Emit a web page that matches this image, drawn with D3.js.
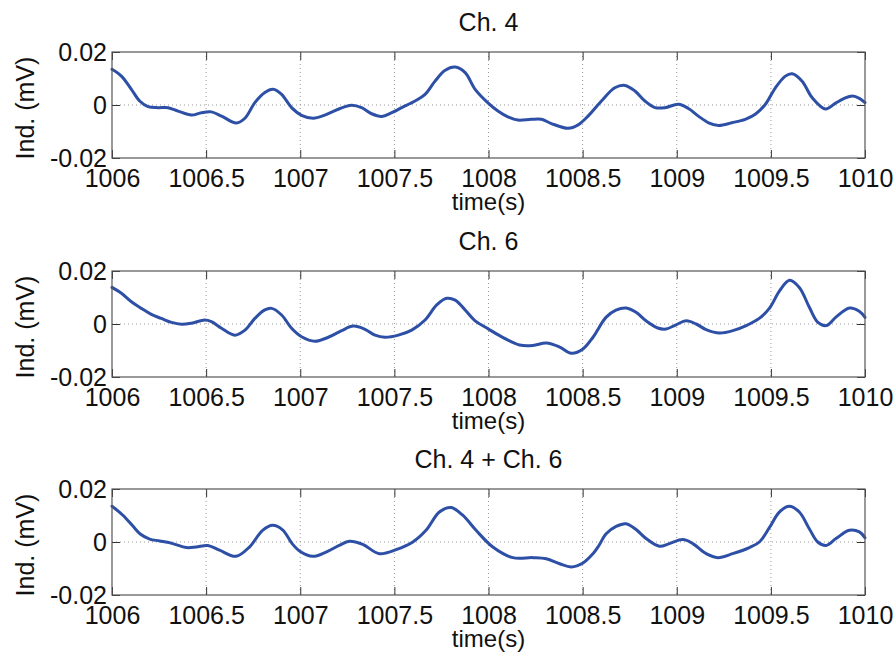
<!DOCTYPE html>
<html>
<head>
<meta charset="utf-8">
<script src="https://cdn.jsdelivr.net/npm/d3@7/dist/d3.min.js"></script>
<style>
  html, body { margin: 0; padding: 0; background: #fff; }
  svg { display: block; }
  text { font-family: "Liberation Sans", Arial, Helvetica, sans-serif; fill: #111; }
</style>
</head>
<body>
<svg id="chart" width="896" height="659"></svg>
<script>
// ---- data ----
const titles = ["Ch. 4", "Ch. 6", "Ch. 4 + Ch. 6"];
const xTicks = [1006, 1006.5, 1007, 1007.5, 1008, 1008.5, 1009, 1009.5, 1010];
const xTickLabels = ["1006", "1006.5", "1007", "1007.5", "1008", "1008.5", "1009", "1009.5", "1010"];
const yTicks = [-0.02, 0, 0.02];
const yTickLabels = ["-0.02", "0", "0.02"];
const xLabel = "time(s)";
const yLabel = "Ind. (mV)";

const ch4Time = [1006.000, 1006.050, 1006.103, 1006.147, 1006.191, 1006.245, 1006.298, 1006.351, 1006.422, 1006.475,
  1006.528, 1006.582, 1006.661, 1006.706, 1006.759, 1006.812, 1006.856, 1006.901, 1006.954, 1007.007,
  1007.069, 1007.131, 1007.202, 1007.273, 1007.326, 1007.379, 1007.433, 1007.486, 1007.539, 1007.610,
  1007.663, 1007.716, 1007.770, 1007.823, 1007.876, 1007.929, 1008.000, 1008.050, 1008.103, 1008.156,
  1008.227, 1008.281, 1008.334, 1008.423, 1008.476, 1008.529, 1008.600, 1008.671, 1008.725, 1008.778,
  1008.831, 1008.885, 1008.938, 1009.009, 1009.062, 1009.115, 1009.169, 1009.222, 1009.293, 1009.364,
  1009.417, 1009.471, 1009.524, 1009.577, 1009.613, 1009.666, 1009.719, 1009.790, 1009.840, 1009.890,
  1009.935, 1009.970, 1010.000];
const ch4Value = [0.0135, 0.0109, 0.0059, 0.0015, -0.0006, -0.0010, -0.0010, -0.0023, -0.0038, -0.0029,
  -0.0026, -0.0042, -0.0068, -0.0050, 0.0009, 0.0047, 0.0059, 0.0040, -0.0010, -0.0039,
  -0.0050, -0.0038, -0.0016, -0.0001, -0.0010, -0.0033, -0.0043, -0.0029, -0.0010, 0.0015,
  0.0040, 0.0090, 0.0131, 0.0143, 0.0122, 0.0059, 0.0006, -0.0023, -0.0045, -0.0057,
  -0.0054, -0.0054, -0.0070, -0.0088, -0.0075, -0.0042, 0.0015, 0.0065, 0.0074, 0.0053,
  0.0015, -0.0010, -0.0010, 0.0003, -0.0013, -0.0042, -0.0067, -0.0077, -0.0067, -0.0054,
  -0.0035, 0.0003, 0.0065, 0.0109, 0.0118, 0.0090, 0.0028, -0.0015, 0.0005, 0.0025,
  0.0034, 0.0025, 0.0009];

const ch6Time = [1006.000, 1006.050, 1006.103, 1006.156, 1006.209, 1006.262, 1006.316, 1006.369, 1006.422, 1006.493,
  1006.528, 1006.582, 1006.652, 1006.706, 1006.759, 1006.812, 1006.848, 1006.901, 1006.954, 1007.007,
  1007.078, 1007.149, 1007.220, 1007.282, 1007.344, 1007.397, 1007.450, 1007.521, 1007.592, 1007.663,
  1007.725, 1007.778, 1007.823, 1007.876, 1007.929, 1007.993, 1008.059, 1008.165, 1008.236, 1008.307,
  1008.378, 1008.440, 1008.502, 1008.555, 1008.624, 1008.677, 1008.731, 1008.784, 1008.837, 1008.899,
  1008.943, 1008.996, 1009.050, 1009.103, 1009.156, 1009.227, 1009.298, 1009.369, 1009.440, 1009.493,
  1009.546, 1009.599, 1009.652, 1009.705, 1009.750, 1009.794, 1009.847, 1009.918, 1009.971, 1010.000];
const ch6Value = [0.0138, 0.0116, 0.0084, 0.0059, 0.0036, 0.0021, 0.0006, -0.0001, 0.0003, 0.0015,
  0.0009, -0.0016, -0.0042, -0.0023, 0.0021, 0.0053, 0.0059, 0.0034, -0.0016, -0.0048,
  -0.0065, -0.0050, -0.0025, -0.0008, -0.0020, -0.0042, -0.0050, -0.0042, -0.0023, 0.0015,
  0.0072, 0.0097, 0.0090, 0.0053, 0.0012, -0.0016, -0.0044, -0.0079, -0.0081, -0.0072,
  -0.0087, -0.0110, -0.0094, -0.0050, 0.0025, 0.0052, 0.0060, 0.0044, 0.0012, -0.0015,
  -0.0019, -0.0003, 0.0012, 0.0000, -0.0021, -0.0034, -0.0025, -0.0006, 0.0022, 0.0060,
  0.0125, 0.0165, 0.0137, 0.0062, 0.0006, -0.0006, 0.0027, 0.0060, 0.0047, 0.0025];

const sumTime = [1006.000, 1006.058, 1006.111, 1006.150, 1006.200, 1006.253, 1006.323, 1006.394, 1006.447, 1006.509,
  1006.571, 1006.659, 1006.730, 1006.800, 1006.853, 1006.906, 1006.959, 1007.000, 1007.066, 1007.137,
  1007.207, 1007.261, 1007.332, 1007.420, 1007.509, 1007.598, 1007.668, 1007.739, 1007.801, 1007.863,
  1007.934, 1008.023, 1008.129, 1008.236, 1008.307, 1008.378, 1008.440, 1008.502, 1008.555, 1008.585,
  1008.625, 1008.678, 1008.731, 1008.784, 1008.837, 1008.908, 1008.961, 1009.032, 1009.085, 1009.156,
  1009.218, 1009.297, 1009.386, 1009.439, 1009.492, 1009.545, 1009.598, 1009.651, 1009.704, 1009.749,
  1009.793, 1009.846, 1009.917, 1009.970, 1010.000];
const sumValue = [0.0135, 0.0101, 0.0060, 0.0030, 0.0011, 0.0004, -0.0006, -0.0021, -0.0019, -0.0013,
  -0.0031, -0.0054, -0.0019, 0.0044, 0.0063, 0.0046, -0.0008, -0.0036, -0.0054, -0.0038,
  -0.0013, 0.0003, -0.0009, -0.0044, -0.0029, 0.0000, 0.0044, 0.0113, 0.0130, 0.0101,
  0.0044, -0.0019, -0.0059, -0.0059, -0.0063, -0.0082, -0.0094, -0.0079, -0.0044, -0.0015,
  0.0031, 0.0059, 0.0069, 0.0047, 0.0013, -0.0016, -0.0006, 0.0009, -0.0006, -0.0044,
  -0.0059, -0.0044, -0.0021, 0.0000, 0.0054, 0.0113, 0.0135, 0.0113, 0.0050, 0.0000,
  -0.0013, 0.0013, 0.0044, 0.0038, 0.0016];

const seriesTimes = [ch4Time, ch6Time, sumTime];
const seriesValues = [ch4Value, ch6Value, sumValue];

// ---- layout ----
const svg = d3.select("#chart");
const left = 112, right = 865;
const panelTops = [52, 271, 489];
const panelH = 106;
const fontSize = 25;
const lineColor = "#2d4fa6";

const x = d3.scaleLinear().domain([1006, 1010]).range([left, right]);

panelTops.forEach((top, i) => {
  const bottom = top + panelH;
  const y = d3.scaleLinear().domain([-0.02, 0.02]).range([bottom, top]);
  const g = svg.append("g");

  g.append("rect").attr("x", left).attr("y", top).attr("width", right - left).attr("height", panelH)
    .attr("fill", "#fff");

  // grid
  g.selectAll(".vgrid").data(xTicks.slice(1, -1)).join("line")
    .attr("x1", d => x(d)).attr("x2", d => x(d)).attr("y1", top).attr("y2", bottom)
    .attr("stroke", "#9a9a9a").attr("stroke-width", 1).attr("stroke-dasharray", "1,3");
  g.selectAll(".hgrid").data(yTicks.slice(1, -1)).join("line")
    .attr("x1", left).attr("x2", right).attr("y1", d => y(d)).attr("y2", d => y(d))
    .attr("stroke", "#9a9a9a").attr("stroke-width", 1).attr("stroke-dasharray", "1,3");

  // data line
  const pts = seriesTimes[i].map((t, k) => [t, seriesValues[i][k]]);
  const line = d3.line().x(d => x(d[0])).y(d => y(d[1])).curve(d3.curveCatmullRom.alpha(0.5));
  g.append("path").datum(pts).attr("d", line)
    .attr("fill", "none").attr("stroke", lineColor).attr("stroke-width", 3)
    .attr("stroke-linejoin", "round").attr("stroke-linecap", "round");

  // axes (inward ticks)
  const xb = d3.axisBottom(x).tickValues(xTicks).tickFormat((d, k) => xTickLabels[k])
    .tickSizeInner(-8).tickSizeOuter(0).tickPadding(11);
  const xt = d3.axisTop(x).tickValues(xTicks).tickFormat("").tickSizeInner(-8).tickSizeOuter(0);
  const yl = d3.axisLeft(y).tickValues(yTicks).tickFormat((d, k) => yTickLabels[k])
    .tickSizeInner(-8).tickSizeOuter(0).tickPadding(5);
  const yr = d3.axisRight(y).tickValues(yTicks).tickFormat("").tickSizeInner(-8).tickSizeOuter(0);

  const ax = [
    g.append("g").attr("transform", `translate(0,${bottom})`).call(xb),
    g.append("g").attr("transform", `translate(0,${top})`).call(xt),
    g.append("g").attr("transform", `translate(${left},0)`).call(yl),
    g.append("g").attr("transform", `translate(${right},0)`).call(yr)
  ];
  ax.forEach(a => {
    a.select(".domain").remove();
    a.selectAll(".tick line").attr("stroke", "#333").attr("stroke-width", 1);
    a.selectAll(".tick text").attr("font-size", fontSize).attr("fill", "#111")
      .attr("font-family", "'Liberation Sans', Arial, Helvetica, sans-serif");
  });
  ax[2].selectAll(".tick text").attr("dy", "0.35em");

  // box
  g.append("rect").attr("x", left).attr("y", top).attr("width", right - left).attr("height", panelH)
    .attr("fill", "none").attr("stroke", "#555").attr("stroke-width", 1.2);

  // title
  g.append("text").attr("x", (left + right) / 2).attr("y", top - 21)
    .attr("text-anchor", "middle").attr("font-size", fontSize).text(titles[i]);

  // x label
  g.append("text").attr("x", (left + right) / 2).attr("y", bottom + 52)
    .attr("text-anchor", "middle").attr("font-size", 24).text(xLabel);

  // y label
  g.append("text").attr("transform", `translate(34,${(top + bottom) / 2 + 3}) rotate(-90)`)
    .attr("text-anchor", "middle").attr("font-size", fontSize).text(yLabel);
});
</script>
</body>
</html>
